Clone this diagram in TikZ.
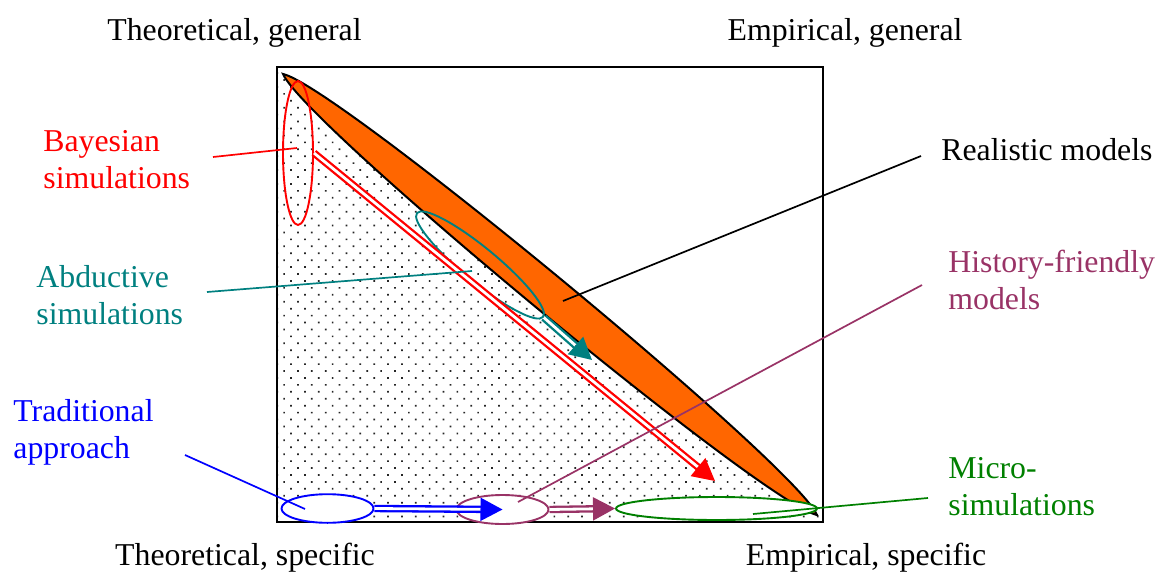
\documentclass[tikz,border=0pt]{standalone}
\usepackage{fontspec}
\setmainfont{Liberation Serif}
\usepackage{tikz}
\usetikzlibrary{arrows.meta,calc,shapes.geometric,patterns.meta}
\definecolor{lensorange}{HTML}{FF6600}
\definecolor{tealc}{HTML}{008080}
\definecolor{plum}{HTML}{993366}
\definecolor{leaf}{HTML}{008000}
\tikzset{
  lbl/.style={font=\fontsize{15.9pt}{18.5pt}\selectfont,inner sep=0pt,align=left,anchor=base west},
  blob/.style={ellipse,draw,line width=0.95pt,inner sep=0pt},
  lead/.style={line width=0.85pt},
  shaft/.style={double=white,double distance=1.4pt,line width=1.15pt},
  headtip/.style={line width=0.9pt,-{Triangle[length=11pt,width=11.5pt]}}
}

\begin{document}
\begin{tikzpicture}[x=0.5pt,y=-0.5pt]
  \useasboundingbox (0,0) rectangle (1165,572);
  % dotted half and the orange lens
  \fill[pattern={Dots[distance=4.9pt,angle=45,radius=0.6pt]},pattern color=black!85] (278,68) -- (283,74) .. controls (304.5,124.2) and (763.7,503.4) .. (817,515) -- (822,521) -- (278,521) -- cycle;
  \filldraw[fill=lensorange,draw=black,line width=1pt] (283,74) .. controls (336.3,85.6) and (795.5,464.8) .. (817,515) .. controls (763.7,503.4) and (304.5,124.2) .. (283,74) -- cycle;
  \draw[line width=1pt] (277,67) rectangle (823,522);

  \node[blob,red,minimum width=15pt,minimum height=72pt] (bayes) at (298,153) {};
  \node[blob,tealc,rotate=-39.5,minimum width=81.7pt,minimum height=17pt] (abduct) at (480,265) {};
  \node[blob,blue,fill=white,minimum width=46pt,minimum height=14.3pt] (trad) at (327.5,508.5) {};
  \node[blob,plum,fill=white,minimum width=46pt,minimum height=14.5pt] (hist) at (502.5,509.5) {};
  \node[blob,leaf,fill=white,minimum width=100.5pt,minimum height=11.5pt] (micro) at (716.5,508.5) {};
  \coordinate (redtip) at (715,481);
  \coordinate (tealtip) at (592,360);

  % double arrows
  \foreach \s/\e/\c in {bayes.east/redtip/red,abduct.east/tealtip/tealc,trad.east/hist.center/blue,hist.east/micro.west/plum} {
    \draw[shaft,\c,shorten >=9pt] (\s) -- (\e);
    \draw[headtip,\c] ($(\e)!11pt!(\s)$) -- (\e);
  }

  % labels
  \node[lbl,anchor=base] (thgen) at (234.5,41) {Theoretical, general};
  \node[lbl,anchor=base] (emgen) at (845,41) {Empirical, general};
  \node[lbl,anchor=base] (thspec) at (245,565) {Theoretical, specific};
  \node[lbl,anchor=base] (emspec) at (866,565) {Empirical, specific};
  \node[lbl,red] (bayesT) at (43,189) {Bayesian\\simulations};
  \node[lbl,tealc] (abductT) at (36,324) {Abductive\\simulations};
  \node[lbl,blue] (tradT) at (13,458) {Traditional\\approach};
  \node[lbl] (realT) at (941,161) {Realistic models};
  \node[lbl,plum] (histT) at (948,309) {History-friendly\\models};
  \node[lbl,leaf] (microT) at (948,515) {Micro-\\simulations};

  % leader lines
  \coordinate (bayesA) at (213,157);   \coordinate (bayesB) at (297,148);
  \coordinate (abductA) at (207,292);  \coordinate (abductB) at (472,271);
  \coordinate (realA) at (921,156);    \coordinate (realB) at (563,301);
  \coordinate (histA) at (922,285);    \coordinate (histB) at (518,502);
  \coordinate (tradA) at (185,455);    \coordinate (tradB) at (305,509);
  \coordinate (microA) at (928,498);   \coordinate (microB) at (753,514);
  \foreach \n/\c in {bayes/red,abduct/tealc,real/black,hist/plum,trad/blue,micro/leaf}
    \draw[lead,\c] (\n A) -- (\n B);
\end{tikzpicture}
\end{document}
